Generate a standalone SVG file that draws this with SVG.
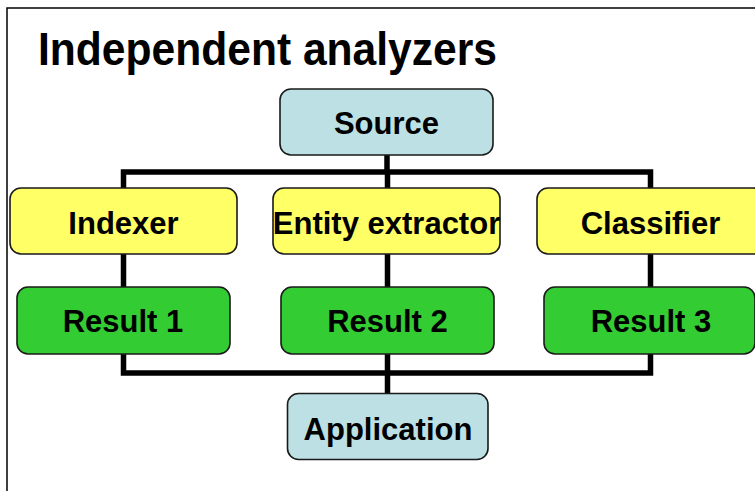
<svg xmlns="http://www.w3.org/2000/svg" width="755" height="491" viewBox="0 0 755 491">
  <style>
    .box { stroke: #1a1a1a; stroke-width: 1.6; }
    .src { fill: #bce0e3; }
    .ana { fill: #ffff66; }
    .res { fill: #33cc33; }
    .lbl { font-family: "Liberation Sans", Arial, sans-serif; font-weight: bold; font-size: 31px; fill: #000; text-anchor: middle; }
    .wire { fill: none; stroke: #000; stroke-width: 5.5; stroke-linejoin: miter; stroke-linecap: butt; }
  </style>
  <rect width="755" height="491" fill="#ffffff"/>
  <!-- slide frame, running off the right and bottom edges -->
  <rect x="7" y="8" width="800" height="600" fill="none" stroke="#000" stroke-width="1.5"/>
  <text x="38" y="65" font-family="Liberation Sans, Arial, sans-serif" font-weight="bold" font-size="47" textLength="459" lengthAdjust="spacingAndGlyphs">Independent analyzers</text>

  <g id="connectors">
    <path class="wire" d="M387,155 V172"/>
    <path class="wire" d="M123.5,188 V172 H650.5 V188"/>
    <path class="wire" d="M387.5,172 V188"/>
    <path class="wire" d="M123.5,254 V287"/>
    <path class="wire" d="M387.5,254 V287"/>
    <path class="wire" d="M650.5,254 V287"/>
    <path class="wire" d="M123.5,354 V373 H650.5 V354"/>
    <path class="wire" d="M387.5,354 V394"/>
  </g>

  <g id="source">
    <rect class="box src" x="280" y="89" width="213" height="66" rx="11"/>
    <text class="lbl" x="386.5" y="133.5">Source</text>
  </g>
  <g id="indexer">
    <rect class="box ana" x="10" y="188" width="227" height="66" rx="11"/>
    <text class="lbl" x="123.5" y="233.5">Indexer</text>
  </g>
  <g id="entity-extractor">
    <rect class="box ana" x="273" y="188" width="227" height="66" rx="11"/>
    <text class="lbl" x="386.5" y="233.5">Entity extractor</text>
  </g>
  <g id="classifier">
    <rect class="box ana" x="537" y="188" width="227" height="66" rx="11"/>
    <text class="lbl" x="650.5" y="233.5">Classifier</text>
  </g>
  <g id="result-1">
    <rect class="box res" x="17" y="287" width="213" height="67" rx="11"/>
    <text class="lbl" x="123" y="332">Result 1</text>
  </g>
  <g id="result-2">
    <rect class="box res" x="281" y="287" width="213" height="67" rx="11"/>
    <text class="lbl" x="387.5" y="332">Result 2</text>
  </g>
  <g id="result-3">
    <rect class="box res" x="544" y="287" width="211" height="67" rx="11"/>
    <text class="lbl" x="651" y="332">Result 3</text>
  </g>
  <g id="application">
    <rect class="box src" x="287.5" y="393.5" width="200.5" height="66" rx="11"/>
    <text class="lbl" x="388" y="439.5">Application</text>
  </g>
</svg>
